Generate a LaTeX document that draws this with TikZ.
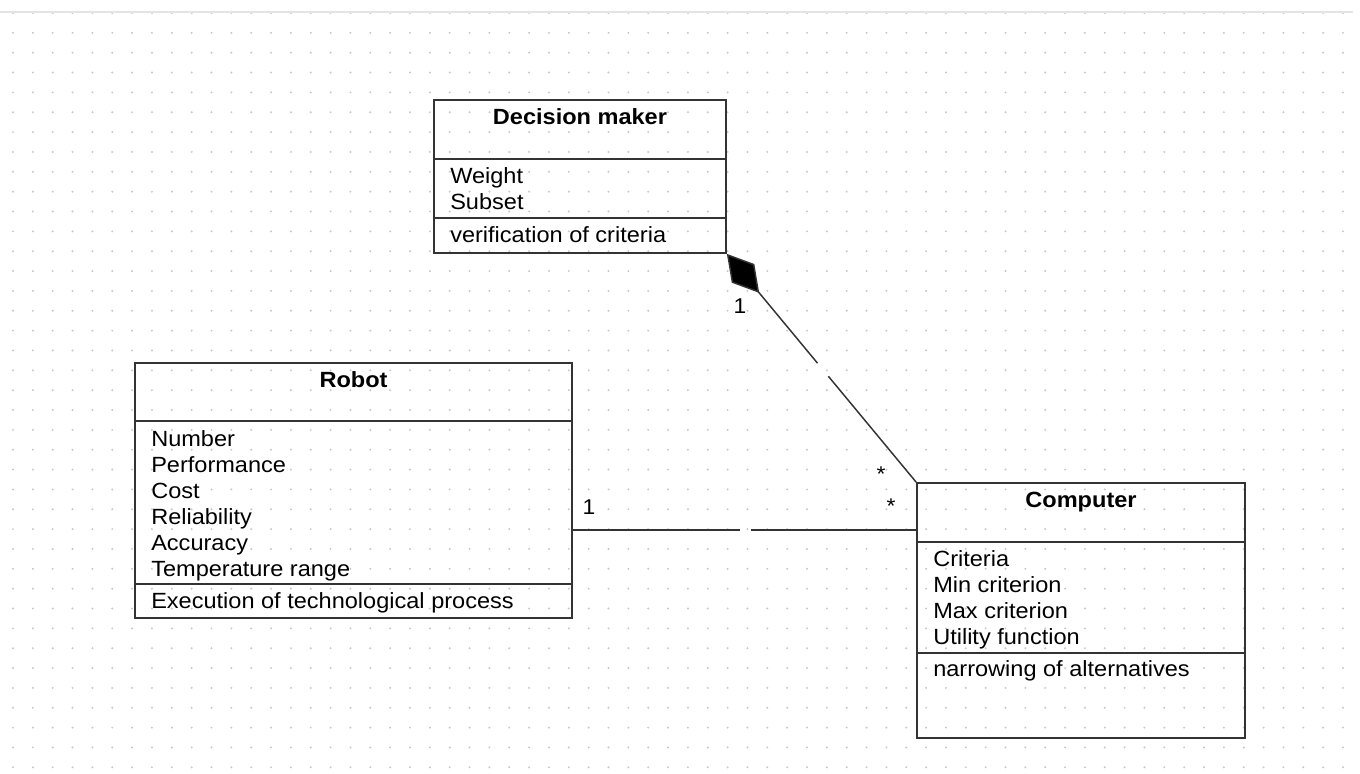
\documentclass[tikz,border=0pt]{standalone}
\usepackage{fontspec}
\setmainfont{Liberation Sans}[FakeStretch=1.07]
\usetikzlibrary{arrows.meta,fit}

\definecolor{boxline}{HTML}{333333}
\definecolor{griddot}{HTML}{C8C8C8}
\definecolor{topline}{HTML}{E4E4E4}

\begin{document}
\begin{tikzpicture}[x=0.75pt,y=-0.75pt,
  classbox/.style={draw=boxline, line width=1.3pt, inner sep=0pt},
  sepline/.style={draw=boxline, line width=1.3pt},
  conn/.style={draw=boxline, line width=1.1pt},
  classtitle/.style={anchor=base, inner sep=0pt, font=\fontsize{16.5pt}{19.5pt}\selectfont\bfseries},
  member/.style={anchor=base west, inner sep=0pt, font=\fontsize{16.5pt}{19.5pt}\selectfont},
  mult/.style={inner sep=0pt, font=\fontsize{16pt}{19pt}\selectfont}]

\useasboundingbox (0,0) rectangle (1360,774);

% canvas: dotted grid and top rule
\fill[white] (0,0) rectangle (1360,774);
\foreach \i in {0,...,67}
  \foreach \j in {0,...,38}
    \fill[griddot] (13+\i*19.85, 13+\j*19.85) circle (1.1);
\draw[topline, line width=1.5pt] (0,12) -- (1353,12);

% ---------- Decision maker ----------
\node[classbox, fit={(434,100) (726,253)}] (dm) {};
\draw[sepline] (dm.west |- 0,159) -- (dm.east |- 0,159);
\draw[sepline] (dm.west |- 0,218) -- (dm.east |- 0,218);
\node[classtitle] (dmT) at (580,124) {Decision maker};
\node[member] (dm1) at (450,183) {Weight};
\node[member] (dm2) at (450,209) {Subset};
\node[member] (dm3) at (450,242) {verification of criteria};

% ---------- Robot ----------
\node[classbox, fit={(135,363) (572,618)}] (rb) {};
\draw[sepline] (rb.west |- 0,421) -- (rb.east |- 0,421);
\draw[sepline] (rb.west |- 0,584) -- (rb.east |- 0,584);
\node[classtitle] (rbT) at (353.5,387) {Robot};
\node[member] (rb1) at (151,446) {Number};
\node[member] (rb2) at (151,472) {Performance};
\node[member] (rb3) at (151,498) {Cost};
\node[member] (rb4) at (151,524) {Reliability};
\node[member] (rb5) at (151,550) {Accuracy};
\node[member] (rb6) at (151,576) {Temperature range};
\node[member] (rb7) at (151,608) {Execution of technological process};

% ---------- Computer ----------
\node[classbox, fit={(917,483) (1245,738)}] (cp) {};
\draw[sepline] (cp.west |- 0,542) -- (cp.east |- 0,542);
\draw[sepline] (cp.west |- 0,653) -- (cp.east |- 0,653);
\node[classtitle] (cpT) at (1081,507) {Computer};
\node[member] (cp1) at (933,566) {Criteria};
\node[member] (cp2) at (933,592) {Min criterion};
\node[member] (cp3) at (933,618) {Max criterion};
\node[member] (cp4) at (933,644) {Utility function};
\node[member] (cp5) at (933,676) {narrowing of alternatives};

% ---------- composition: Decision maker <>-- Computer ----------
\path (dm.south east) -- coordinate[pos=0.479] (cg1) coordinate[pos=0.536] (cg2) (cp.north west);
\draw[conn, {Diamond[length=38pt, width=22pt, fill=black]}-] (dm.south east) -- (cg1);
\draw[conn] (cg2) -- (cp.north west);
\node[mult, anchor=base] (mDm) at (740,313) {1};
\node[mult, anchor=base] (mCp1) at (881,481) {*};

% ---------- association: Robot -- Computer ----------
\coordinate (ay) at (0,530);
\path (rb.east |- ay) -- coordinate[pos=0.487] (ag1) coordinate[pos=0.519] (ag2) (cp.west |- ay);
\draw[conn] (rb.east |- ay) -- (ag1);
\draw[conn] (ag2) -- (cp.west |- ay);
\node[mult, anchor=base] (mRb) at (589,514) {1};
\node[mult, anchor=base] (mCp2) at (891,513) {*};

\end{tikzpicture}
\end{document}
